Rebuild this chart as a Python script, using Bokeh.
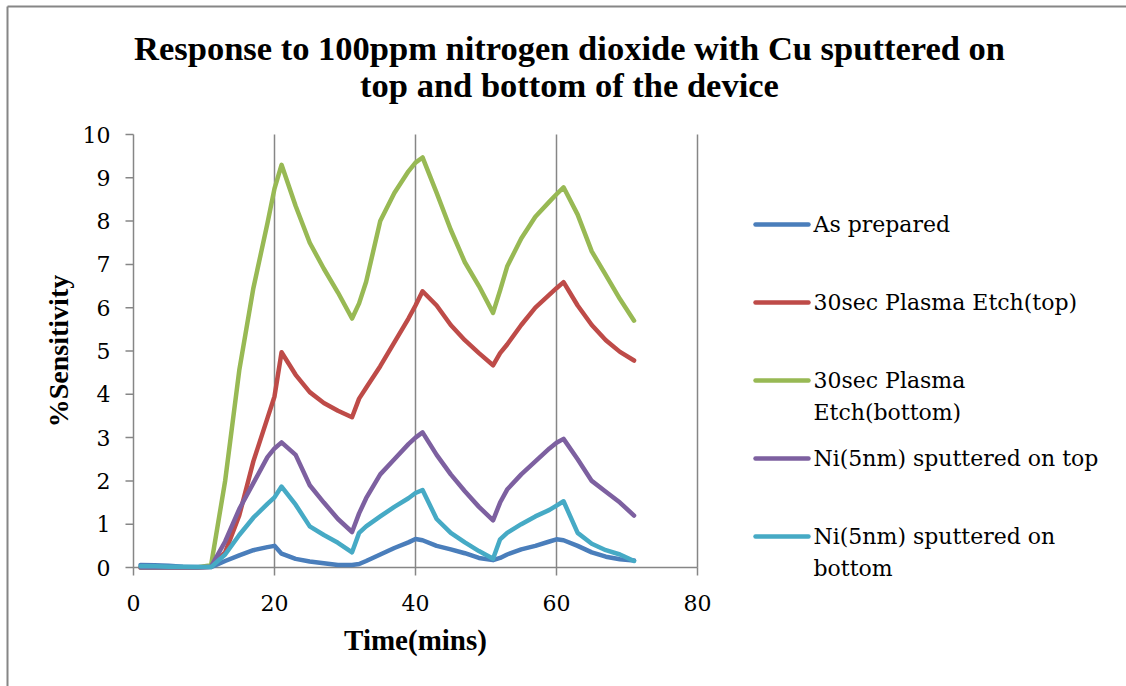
import math

from bokeh.plotting import figure
from bokeh.core.properties import value
from bokeh.embed import file_html
from bokeh.resources import INLINE

# ---- data -------------------------------------------------------------
time_min = [1, 3, 5, 7, 9, 11, 13, 15, 17, 19, 20, 21, 23, 25, 27, 29, 31,
            32, 33, 35, 37, 39, 40, 41, 43, 45, 47, 49, 51,
            52, 53, 55, 57, 59, 60, 61, 63, 65, 67, 69, 71]

as_prepared = [0.06, 0.05, 0.04, 0.02, 0.01, 0.01,
               0.15, 0.28, 0.40, 0.47, 0.50, 0.32,
               0.20, 0.14, 0.10, 0.06, 0.06,
               0.08, 0.15, 0.30, 0.45, 0.58, 0.66, 0.63,
               0.50, 0.42, 0.33, 0.22, 0.17,
               0.22, 0.30, 0.42, 0.50, 0.60, 0.65, 0.63,
               0.50, 0.35, 0.25, 0.19, 0.16]

etch_top = [0, 0, 0, 0, 0, 0.02,
            0.35, 1.20, 2.45, 3.45, 3.95, 4.97,
            4.45, 4.05, 3.80, 3.62, 3.47,
            3.90, 4.15, 4.65, 5.20, 5.75, 6.05, 6.38,
            6.05, 5.60, 5.25, 4.95, 4.67,
            4.95, 5.15, 5.60, 6.00, 6.30, 6.45, 6.59,
            6.05, 5.60, 5.25, 4.98, 4.78]

etch_bottom = [0, 0, 0, 0, 0, 0.05,
               2.00, 4.55, 6.45, 7.95, 8.75, 9.30,
               8.35, 7.50, 6.90, 6.35, 5.75,
               6.10, 6.60, 8.00, 8.65, 9.15, 9.35, 9.47,
               8.65, 7.80, 7.05, 6.50, 5.88,
               6.40, 6.95, 7.60, 8.10, 8.45, 8.62, 8.78,
               8.15, 7.30, 6.75, 6.20, 5.70]

ni_top = [0, 0, 0, 0, 0, 0.02,
          0.60, 1.35, 1.95, 2.55, 2.75, 2.89,
          2.60, 1.90, 1.50, 1.12, 0.82,
          1.25, 1.60, 2.15, 2.50, 2.85, 3.00, 3.12,
          2.60, 2.15, 1.76, 1.40, 1.09,
          1.50, 1.80, 2.15, 2.45, 2.75, 2.88, 2.97,
          2.50, 2.00, 1.75, 1.50, 1.20]

ni_bottom = [0.03, 0.03, 0.02, 0.02, 0.01, 0.01,
             0.30, 0.75, 1.15, 1.47, 1.62, 1.87,
             1.45, 0.95, 0.75, 0.57, 0.35,
             0.80, 0.95, 1.18, 1.40, 1.60, 1.72, 1.79,
             1.12, 0.80, 0.58, 0.38, 0.20,
             0.65, 0.80, 1.00, 1.18, 1.33, 1.43, 1.53,
             0.80, 0.55, 0.40, 0.30, 0.15]

series_names = ["As prepared", "30sec Plasma Etch(top)", "30sec Plasma\nEtch(bottom)",
                "Ni(5nm) sputtered on top", "Ni(5nm) sputtered on\nbottom"]
series_values = [as_prepared, etch_top, etch_bottom, ni_top, ni_bottom]
series_colors = ["#4a7ebb", "#be4b48", "#98b954", "#7d60a0", "#46aac5"]

x_ticks = [0, 20, 40, 60, 80]
y_ticks = list(range(0, 11))
x_gridlines = [20, 40, 60, 80]

title_lines = ["Response to 100ppm nitrogen dioxide with Cu sputtered on",
               "top and bottom of the device"]
x_title = "Time(mins)"
y_title = "%Sensitivity"

# ---- layout (pixels) --------------------------------------------------
W, H = 1126, 686
AX_LEFT, AX_TOP, AX_BOTTOM = 133, 134, 567     # x=0 / y=10 / y=0
PX_PER_X = (697 - AX_LEFT) / 80.0
PX_PER_Y = (AX_BOTTOM - AX_TOP) / 10.0

GRAY = "#868686"
SERIF = "DejaVu Serif"
SERIF_BOLD = "Liberation Serif"


def dx(px):
    """pixel column -> time units"""
    return (px - AX_LEFT) / PX_PER_X


def dy(py):
    """pixel row -> sensitivity units"""
    return (AX_BOTTOM - py) / PX_PER_Y


# plotting frame spans the whole canvas; the axes are drawn on it
p = figure(width=W, height=H,
           x_range=(dx(0), dx(W)), y_range=(dy(H), dy(0)),
           output_backend="svg", toolbar_location=None,
           x_axis_location=None, y_axis_location=None,
           min_border=0, min_border_left=0, min_border_right=0,
           min_border_top=0, min_border_bottom=0)
p.outline_line_color = None
p.grid.visible = False
p.background_fill_color = "white"
p.border_fill_color = "white"

TICK = 8 / PX_PER_Y
TICK_X = 8 / PX_PER_X

# chart-area border (left and top edges)
p.segment(x0=[dx(7), dx(7)], y0=[dy(6), dy(6)], x1=[dx(7), dx(W + 5)], y1=[dy(H + 5), dy(6)],
          line_color=GRAY, line_width=2)

# vertical gridlines
p.segment(x0=x_gridlines, y0=[0] * len(x_gridlines),
          x1=x_gridlines, y1=[max(y_ticks)] * len(x_gridlines),
          line_color=GRAY, line_width=1.5)

# axis lines and ticks
p.segment(x0=[min(x_ticks), min(x_ticks)], y0=[0, 0],
          x1=[max(x_ticks), min(x_ticks)], y1=[0, max(y_ticks)],
          line_color=GRAY, line_width=1.5)
p.segment(x0=x_ticks, y0=[0] * len(x_ticks), x1=x_ticks, y1=[-TICK] * len(x_ticks),
          line_color=GRAY, line_width=1.5)
p.segment(x0=[0] * len(y_ticks), y0=y_ticks, x1=[-TICK_X] * len(y_ticks), y1=y_ticks,
          line_color=GRAY, line_width=1.5)

# tick labels
p.text(x=x_ticks, y=[dy(602)] * len(x_ticks), text=[str(t) for t in x_ticks],
       text_font=value(SERIF), text_font_size="22px", text_color="black",
       text_align="center", text_baseline="middle")
p.text(x=[dx(110)] * len(y_ticks), y=y_ticks, text=[str(t) for t in y_ticks],
       text_font=value(SERIF), text_font_size="22px", text_color="black",
       text_align="right", text_baseline="middle")

# axis titles
p.text(x=[40], y=[dy(639)], text=[x_title],
       text_font=value(SERIF_BOLD), text_font_style="bold", text_font_size="29px",
       text_color="black", text_align="center", text_baseline="middle")
p.text(x=[dx(58)], y=[5], text=[y_title], angle=math.pi / 2,
       text_font=value(SERIF_BOLD), text_font_style="bold", text_font_size="28px",
       text_color="black", text_align="center", text_baseline="middle")

# chart title
p.text(x=[dx(569)] * len(title_lines), y=[dy(47), dy(84)], text=title_lines,
       text_font=value(SERIF_BOLD), text_font_style="bold", text_font_size="34.5px",
       text_color="black", text_align="center", text_baseline="middle")

# series
for vals, col in zip(series_values, series_colors):
    p.line(time_min, vals, line_color=col, line_width=4.5,
           line_join="round", line_cap="round")

# legend
LEG_TOP_PX, LEG_STEP_PX, LEG_LINE_PX = 224, 78, 32
for i, (name, col) in enumerate(zip(series_names, series_colors)):
    yy = LEG_TOP_PX + i * LEG_STEP_PX
    p.segment(x0=[dx(755)], y0=[dy(yy)], x1=[dx(808)], y1=[dy(yy)],
              line_color=col, line_width=4.5, line_cap="round")
    parts = name.split("\n")
    p.text(x=[dx(813)] * len(parts),
           y=[dy(yy + j * LEG_LINE_PX) for j in range(len(parts))], text=parts,
           text_font=value(SERIF), text_font_size="22px", text_color="black",
           text_align="left", text_baseline="middle")

open("out.html", "w").write(file_html(p, INLINE))
